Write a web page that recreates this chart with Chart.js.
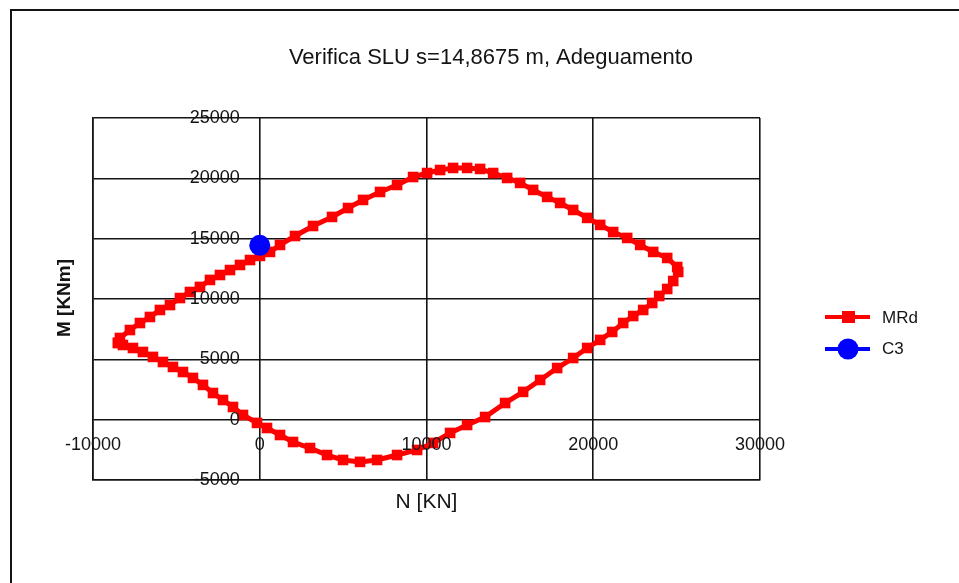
<!DOCTYPE html>
<html>
<head>
<meta charset="utf-8">
<script src="https://cdn.jsdelivr.net/npm/chart.js@4.4.1/dist/chart.umd.min.js"></script>
<style>
  html, body { margin: 0; padding: 0; background: #fff; }
  canvas { display: block; }
</style>
</head>
<body>
<canvas id="c" width="959" height="583"></canvas>
<script>
// Titles and tick values
const chartTitle = 'Verifica SLU s=14,8675 m, Adeguamento';
const xTitle = 'N [KN]';
const yTitle = 'M [KNm]';
const xTicks = [-10000, 0, 10000, 20000, 30000];
const yTicks = [-5000, 0, 5000, 10000, 15000, 20000, 25000];

// Resisting domain MRd (N [KN], M [KNm]) – closed loop
const mrdN = [-8500, -8385, -7785, -7185, -6585, -5985, -5385, -4785, -4185, -3585,
  -2985, -2385, -1785, -1185, -585, 15, 615, 1215, 2115, 3195,
  4335, 5295, 6195, 7215, 8235, 9195, 10035, 10815, 11595, 12435,
  13215, 13995, 14835, 15615, 16395, 17235, 18015, 18795, 19635, 20415,
  21195, 22035, 22815, 23595, 24435, 25035, 25095, 24795, 24435, 23955,
  23535, 22995, 22395, 21795, 21135, 20415, 19635, 18795, 17835, 16815,
  15795, 14715, 13515, 12435, 11415, 10395, 9435, 8235, 7035, 6015,
  4995, 4035, 3015, 1995, 1215, 435, -165, -1005, -1605, -2205,
  -2805, -3405, -4005, -4605, -5205, -5805, -6405, -7005, -7605, -8205, -8500];
const mrdM = [6360, 6770, 7430, 8010, 8510, 9090, 9500, 10080, 10580, 11000,
  11580, 11990, 12400, 12820, 13230, 13570, 13900, 14480, 15220, 16050,
  16800, 17540, 18210, 18870, 19450, 20110, 20440, 20690, 20860, 20860,
  20780, 20440, 20030, 19620, 19040, 18460, 17960, 17380, 16720, 16140,
  15550, 15060, 14480, 13900, 13400, 12650, 12240, 11490, 10830, 10250,
  9670, 9090, 8590, 8010, 7270, 6610, 5940, 5110, 4280, 3290,
  2300, 1380, 220, -440, -1100, -1930, -2510, -2930, -3340, -3500,
  -3340, -2930, -2350, -1850, -1270, -690, -270, 390, 1050, 1630,
  2210, 2880, 3460, 3950, 4370, 4780, 5200, 5610, 5940, 6190, 6360];

// Acting load C3
const c3N = [0];
const c3M = [14450];

const RED = '#ff0000';
const BLUE = '#0000ff';
const INK = '#141414';
const FONT = '"Liberation Sans", Arial, sans-serif';

const toPoints = (xs, ys) => xs.map((x, i) => ({ x: x, y: ys[i] }));

// Frame, title, tick labels, axis titles and legend
const decorations = {
  id: 'decorations',
  afterDraw(chart) {
    const ctx = chart.ctx;
    const xs = chart.scales.x, ys = chart.scales.y;
    ctx.save();

    // outer frame
    ctx.strokeStyle = INK;
    ctx.lineWidth = 2;
    ctx.beginPath();
    ctx.moveTo(11, 600);
    ctx.lineTo(11, 10);
    ctx.lineTo(970, 10);
    ctx.stroke();

    ctx.fillStyle = INK;
    // title
    ctx.font = '22px ' + FONT;
    ctx.textAlign = 'center';
    ctx.textBaseline = 'middle';
    ctx.fillText(chartTitle, 491, 58);

    // tick labels placed at the axes crossing
    ctx.font = '18px ' + FONT;
    const x0 = xs.getPixelForValue(0);
    const y0 = ys.getPixelForValue(0);
    ctx.textAlign = 'right';
    yTicks.forEach(v => ctx.fillText(String(v), x0 - 20, ys.getPixelForValue(v)));
    ctx.textAlign = 'center';
    xTicks.forEach(v => ctx.fillText(String(v), xs.getPixelForValue(v), y0 + 25));

    // axis titles
    ctx.font = '21px ' + FONT;
    ctx.fillText(xTitle, (xs.left + xs.right) / 2, 502);
    ctx.save();
    ctx.translate(65, 298);
    ctx.rotate(-Math.PI / 2);
    ctx.font = 'bold 19px ' + FONT;
    ctx.fillText(yTitle, 0, 0);
    ctx.restore();

    // legend
    ctx.lineWidth = 4;
    ctx.strokeStyle = RED;
    ctx.beginPath(); ctx.moveTo(825, 317); ctx.lineTo(870, 317); ctx.stroke();
    ctx.fillStyle = RED;
    ctx.fillRect(842, 311, 13, 12);
    ctx.strokeStyle = BLUE;
    ctx.beginPath(); ctx.moveTo(825, 349); ctx.lineTo(870, 349); ctx.stroke();
    ctx.fillStyle = BLUE;
    ctx.beginPath(); ctx.arc(848, 349, 10.5, 0, Math.PI * 2); ctx.fill();
    ctx.fillStyle = INK;
    ctx.font = '17px ' + FONT;
    ctx.textAlign = 'left';
    ctx.fillText('MRd', 882, 318);
    ctx.fillText('C3', 882, 349);

    ctx.restore();
  }
};

new Chart(document.getElementById('c'), {
  type: 'scatter',
  data: {
    datasets: [
      {
        label: 'MRd',
        data: toPoints(mrdN, mrdM),
        showLine: true,
        borderColor: RED,
        backgroundColor: RED,
        borderWidth: 5,
        pointStyle: 'rect',
        pointRadius: 7.5,
        pointBorderWidth: 0,
        pointHoverRadius: 7.5,
        order: 1
      },
      {
        label: 'C3',
        data: toPoints(c3N, c3M),
        borderColor: BLUE,
        backgroundColor: BLUE,
        pointStyle: 'circle',
        pointRadius: 10.5,
        pointBorderWidth: 0,
        order: 0
      }
    ]
  },
  options: {
    responsive: false,
    animation: false,
    devicePixelRatio: 1,
    layout: { padding: { left: 93, top: 118, right: 199, bottom: 103 } },
    plugins: {
      legend: { display: false },
      title: { display: false },
      tooltip: { enabled: false }
    },
    events: [],
    scales: {
      x: {
        type: 'linear',
        min: xTicks[0],
        max: xTicks[xTicks.length - 1],
        afterBuildTicks: s => { s.ticks = xTicks.map(v => ({ value: v })); },
        ticks: { display: false },
        grid: { color: INK, lineWidth: 1.6, drawTicks: false },
        border: { display: true, color: INK, width: 1.6 }
      },
      y: {
        type: 'linear',
        min: yTicks[0],
        max: yTicks[yTicks.length - 1],
        afterBuildTicks: s => { s.ticks = yTicks.map(v => ({ value: v })); },
        ticks: { display: false },
        grid: { color: INK, lineWidth: 1.6, drawTicks: false },
        border: { display: true, color: INK, width: 1.6 }
      }
    }
  },
  plugins: [decorations]
});
</script>
</body>
</html>
